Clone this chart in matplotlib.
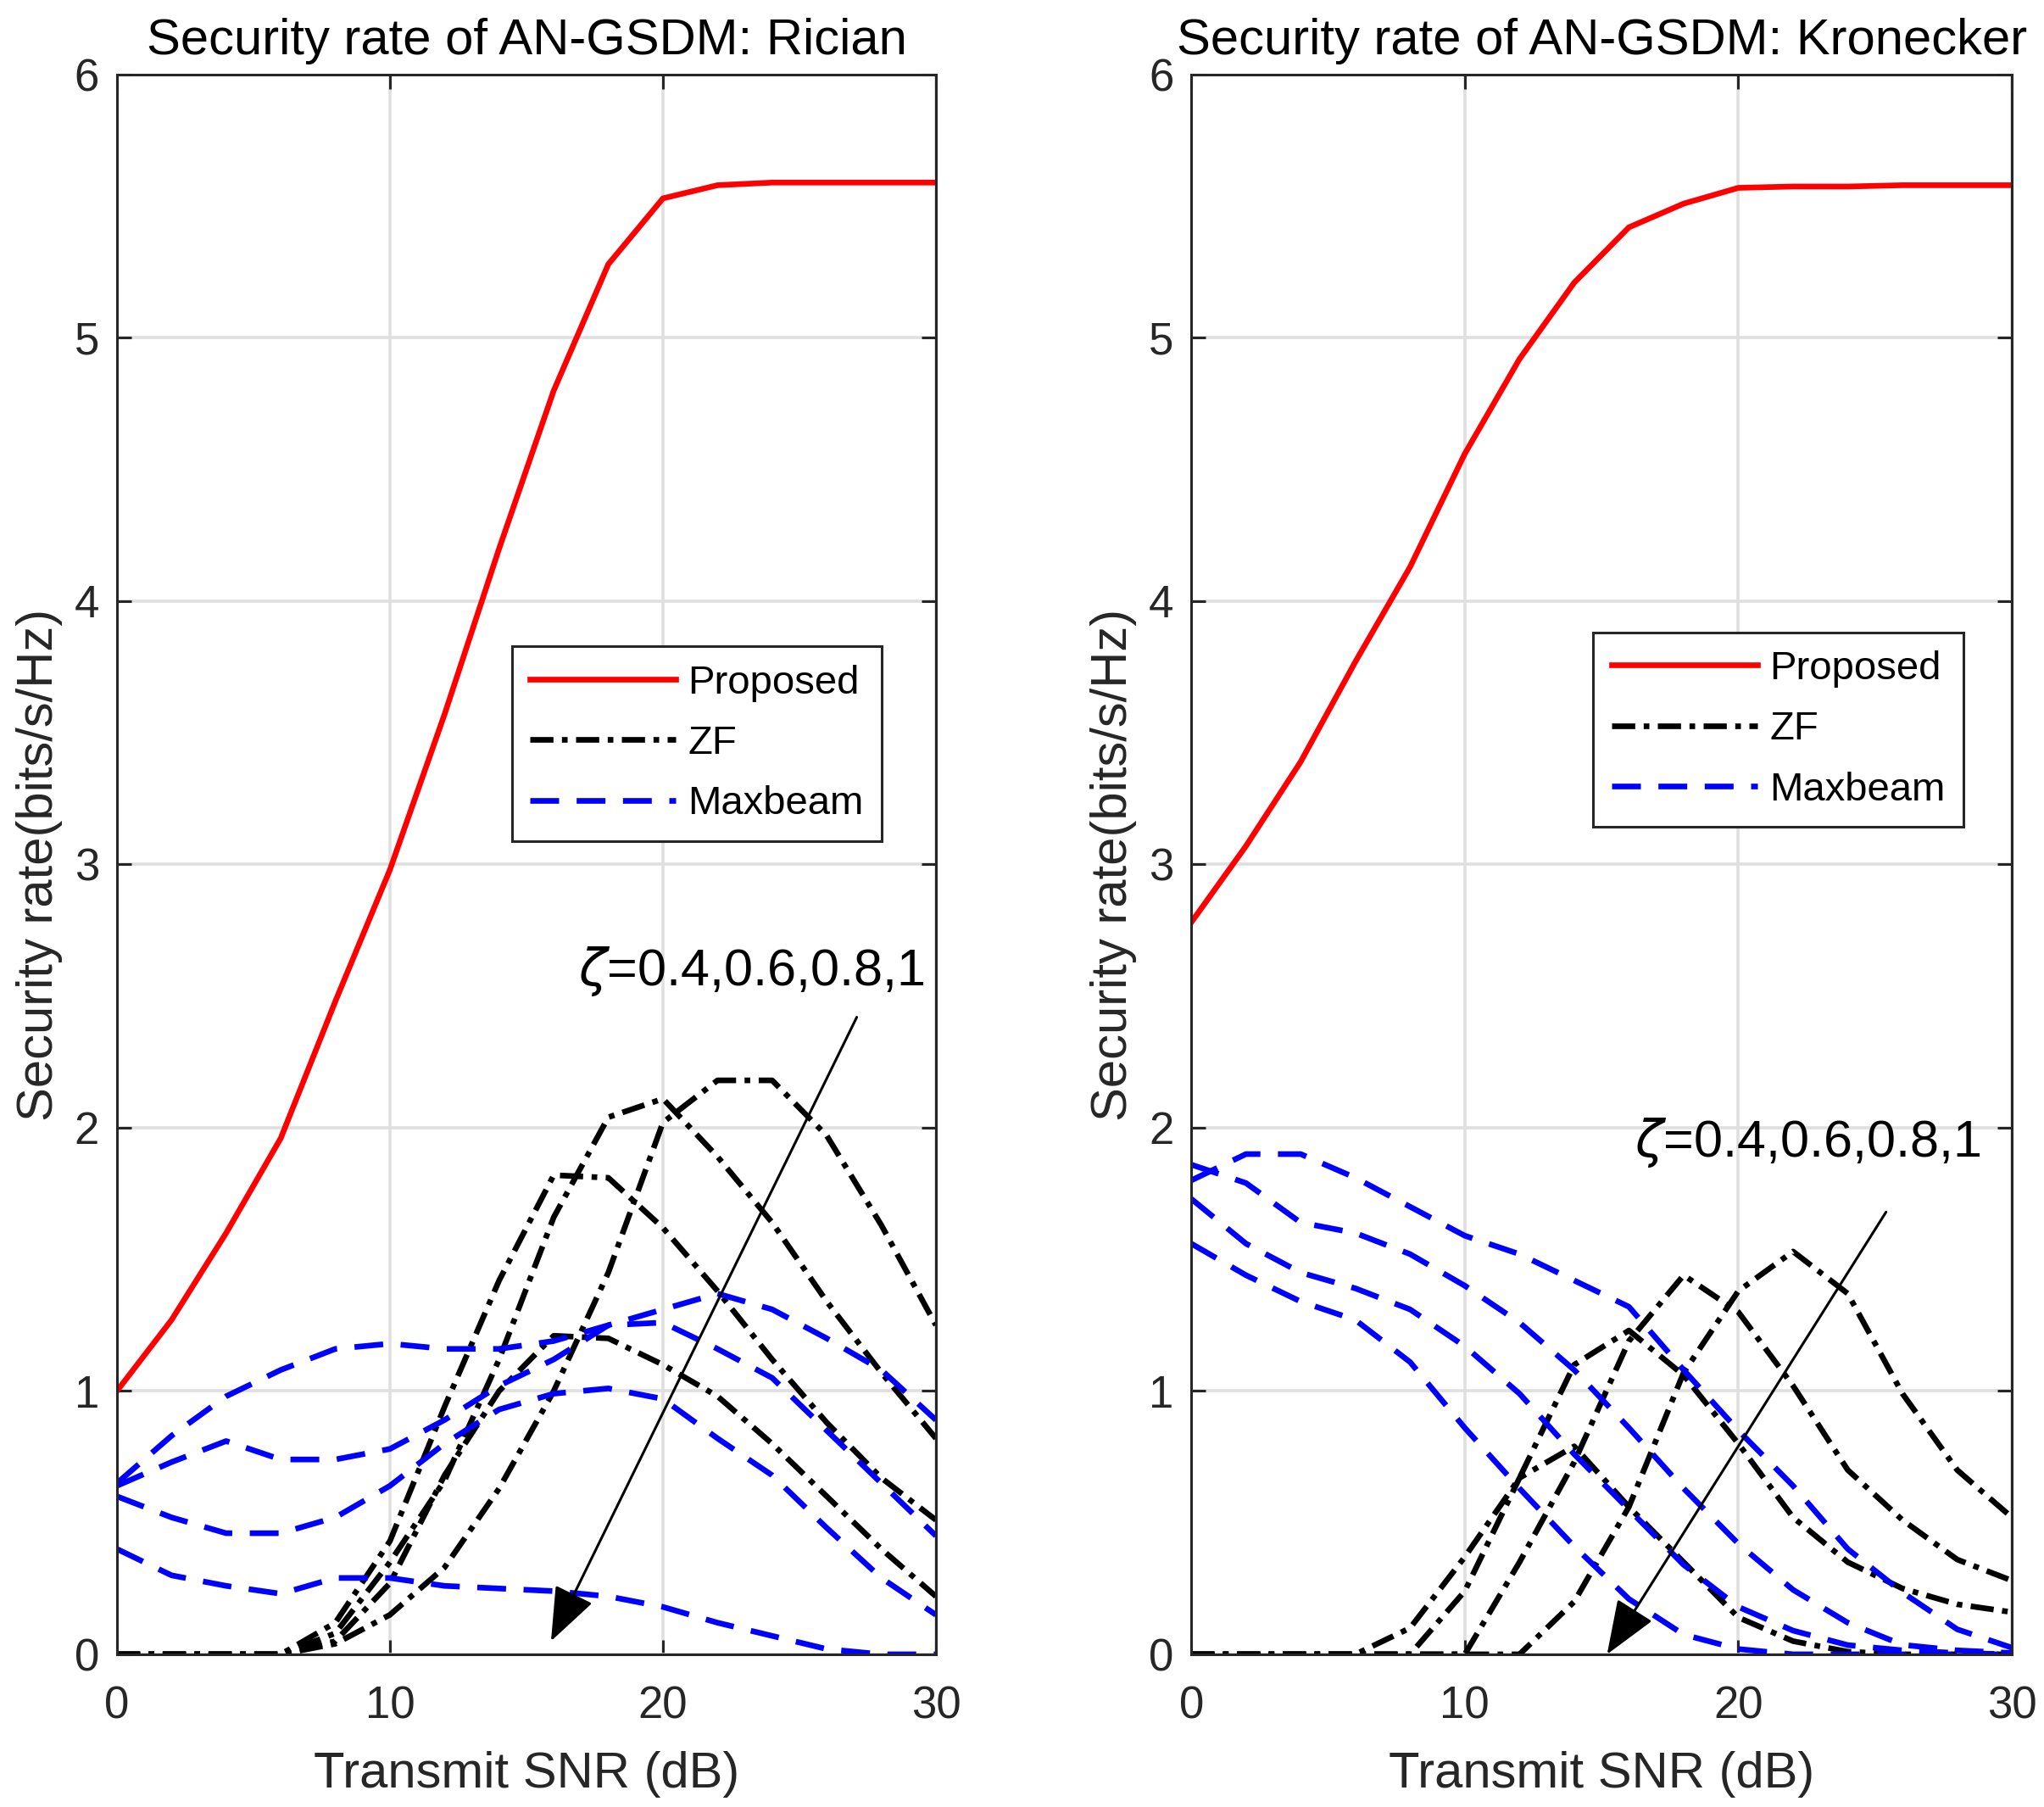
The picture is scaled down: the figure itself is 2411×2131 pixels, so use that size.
import numpy as np
import matplotlib
matplotlib.use("Agg")
import matplotlib.pyplot as plt
from matplotlib.lines import Line2D

plt.rcParams['font.family'] = ['Liberation Sans', 'DejaVu Sans']
plt.rcParams['mathtext.fontset'] = 'dejavusans'

snr = [0, 2, 4, 6, 8, 10, 12, 14, 16, 18, 20, 22, 24, 26, 28, 30]
zeta_text = r'$\zeta$=0.4,0.6,0.8,1'

# Rician channel
prop_rician = [1.00, 1.27, 1.60, 1.96, 2.48, 2.98, 3.57, 4.20, 4.80, 5.28, 5.53, 5.58, 5.59, 5.59, 5.59, 5.59]
zf_rician = [
    [0, 0, 0, 0, 0.04, 0.15, 0.33, 0.63, 1.00, 1.45, 2.02, 2.18, 2.18, 1.97, 1.63, 1.25],
    [0, 0, 0, 0, 0.08, 0.35, 0.66, 1.12, 1.66, 2.04, 2.11, 1.89, 1.64, 1.34, 1.07, 0.82],
    [0, 0, 0, 0, 0.12, 0.43, 0.94, 1.42, 1.82, 1.81, 1.62, 1.38, 1.12, 0.88, 0.67, 0.51],
    [0, 0, 0, 0, 0.05, 0.27, 0.68, 1.00, 1.21, 1.20, 1.10, 0.98, 0.80, 0.60, 0.40, 0.22],
]
mb_rician = [
    [0.65, 0.83, 0.98, 1.08, 1.16, 1.18, 1.16, 1.16, 1.19, 1.25, 1.31, 1.37, 1.31, 1.20, 1.08, 0.89],
    [0.64, 0.73, 0.81, 0.74, 0.74, 0.78, 0.89, 1.02, 1.12, 1.25, 1.26, 1.16, 1.05, 0.85, 0.65, 0.45],
    [0.60, 0.52, 0.46, 0.46, 0.52, 0.64, 0.80, 0.93, 0.99, 1.01, 0.97, 0.82, 0.68, 0.48, 0.29, 0.15],
    [0.40, 0.30, 0.26, 0.23, 0.29, 0.29, 0.26, 0.25, 0.24, 0.22, 0.18, 0.12, 0.07, 0.02, 0.0, 0.0],
]

# Kronecker channel
prop_kron = [2.78, 3.07, 3.39, 3.77, 4.13, 4.56, 4.92, 5.21, 5.42, 5.51, 5.57, 5.575, 5.575, 5.58, 5.58, 5.58]
zf_kron = [
    [0, 0, 0, 0, 0, 0, 0, 0.20, 0.56, 1.07, 1.38, 1.53, 1.37, 0.99, 0.70, 0.52],
    [0, 0, 0, 0, 0, 0, 0.35, 0.73, 1.19, 1.44, 1.30, 1.02, 0.70, 0.51, 0.36, 0.28],
    [0, 0, 0, 0, 0.10, 0.37, 0.67, 1.10, 1.23, 1.06, 0.80, 0.52, 0.35, 0.25, 0.19, 0.16],
    [0, 0, 0, 0, 0.0, 0.24, 0.67, 0.79, 0.56, 0.35, 0.14, 0.05, 0.01, 0, 0, 0],
]
mb_kron = [
    [1.80, 1.90, 1.90, 1.81, 1.70, 1.59, 1.52, 1.42, 1.32, 1.08, 0.85, 0.64, 0.40, 0.235, 0.095, 0.025],
    [1.86, 1.79, 1.64, 1.60, 1.52, 1.40, 1.26, 1.08, 0.86, 0.63, 0.42, 0.245, 0.12, 0.036, 0.015, 0.005],
    [1.73, 1.56, 1.45, 1.39, 1.31, 1.17, 0.99, 0.76, 0.55, 0.34, 0.18, 0.09, 0.035, 0.015, 0.005, 0.0],
    [1.56, 1.44, 1.34, 1.27, 1.11, 0.86, 0.63, 0.41, 0.21, 0.075, 0.02, 0.0, 0.0, 0.0, 0.0, 0.0],
]

LW = 4.8
DASH = (5.1, 3.1)
DASHDOT = (4.1, 1.5, 1.0, 1.5)
AXC = '#262626'


def draw(ax, title, prop, zf, mb, zeta_pos, arrow_from, arrow_to, leg_anchor):
    ax.plot(snr, prop, color='red', lw=LW, solid_joinstyle='miter')
    for row in zf:
        ax.plot(snr, row, color='black', lw=LW, dashes=DASHDOT)
    for row in mb:
        ax.plot(snr, row, color='blue', lw=LW, dashes=DASH)

    ax.set_xlim(0, 30)
    ax.set_ylim(0, 6)
    ax.set_xticks([0, 10, 20, 30])
    ax.set_yticks([0, 1, 2, 3, 4, 5, 6])
    ax.grid(True, color='#dfdfdf', lw=2.6)
    ax.set_axisbelow(True)
    ax.tick_params(direction='in', top=True, right=True, length=12, width=2.2,
                   colors=AXC, labelsize=38)
    ax.tick_params(axis='x', pad=26)
    ax.tick_params(axis='y', pad=15)
    for sp in ax.spines.values():
        sp.set_color(AXC)
        sp.set_linewidth(2.2)

    ax.set_title(title, fontsize=43, pad=17, color='black')
    ax.set_xlabel('Transmit SNR (dB)', fontsize=43, color=AXC, labelpad=20)
    ax.set_ylabel('Security rate(bits/s/Hz)', fontsize=43, color=AXC, labelpad=10)

    ax.text(zeta_pos[0], zeta_pos[1], zeta_text, fontsize=44, ha='left', va='baseline')
    ax.annotate('', xy=arrow_to, xytext=arrow_from,
                arrowprops=dict(arrowstyle='-|>,head_length=1.6,head_width=0.62',
                                color='black', lw=2.2, mutation_scale=25,
                                shrinkA=0, shrinkB=0))

    handles = [Line2D([], [], color='red', lw=LW),
               Line2D([], [], color='black', lw=LW, dashes=DASHDOT),
               Line2D([], [], color='blue', lw=LW, dashes=DASH)]
    leg = ax.legend(handles, ['Proposed', 'ZF', 'Maxbeam'], loc='upper left',
                    bbox_to_anchor=leg_anchor, borderaxespad=0, fontsize=34,
                    fancybox=False, framealpha=1, edgecolor=AXC,
                    handlelength=3.65, handletextpad=0.3, borderpad=0.45,
                    labelspacing=0.58)
    leg.get_frame().set_linewidth(2.2)


fig = plt.figure(figsize=(24.11, 21.31), dpi=100)
ax1 = fig.add_axes([0.0572, 0.0845, 0.4007, 0.8742])
ax2 = fig.add_axes([0.5828, 0.0845, 0.4015, 0.8742])

draw(ax1, 'Security rate of AN-GSDM: Rician', prop_rician, zf_rician, mb_rician,
     (16.9, 2.54), (27.1, 2.42), (15.9, 0.05), (0.482, 0.638))
draw(ax2, 'Security rate of AN-GSDM: Kronecker', prop_kron, zf_kron, mb_kron,
     (16.2, 1.89), (25.4, 1.68), (15.2, 0.0), (0.490, 0.647))

fig.savefig('out.png', dpi=100)
